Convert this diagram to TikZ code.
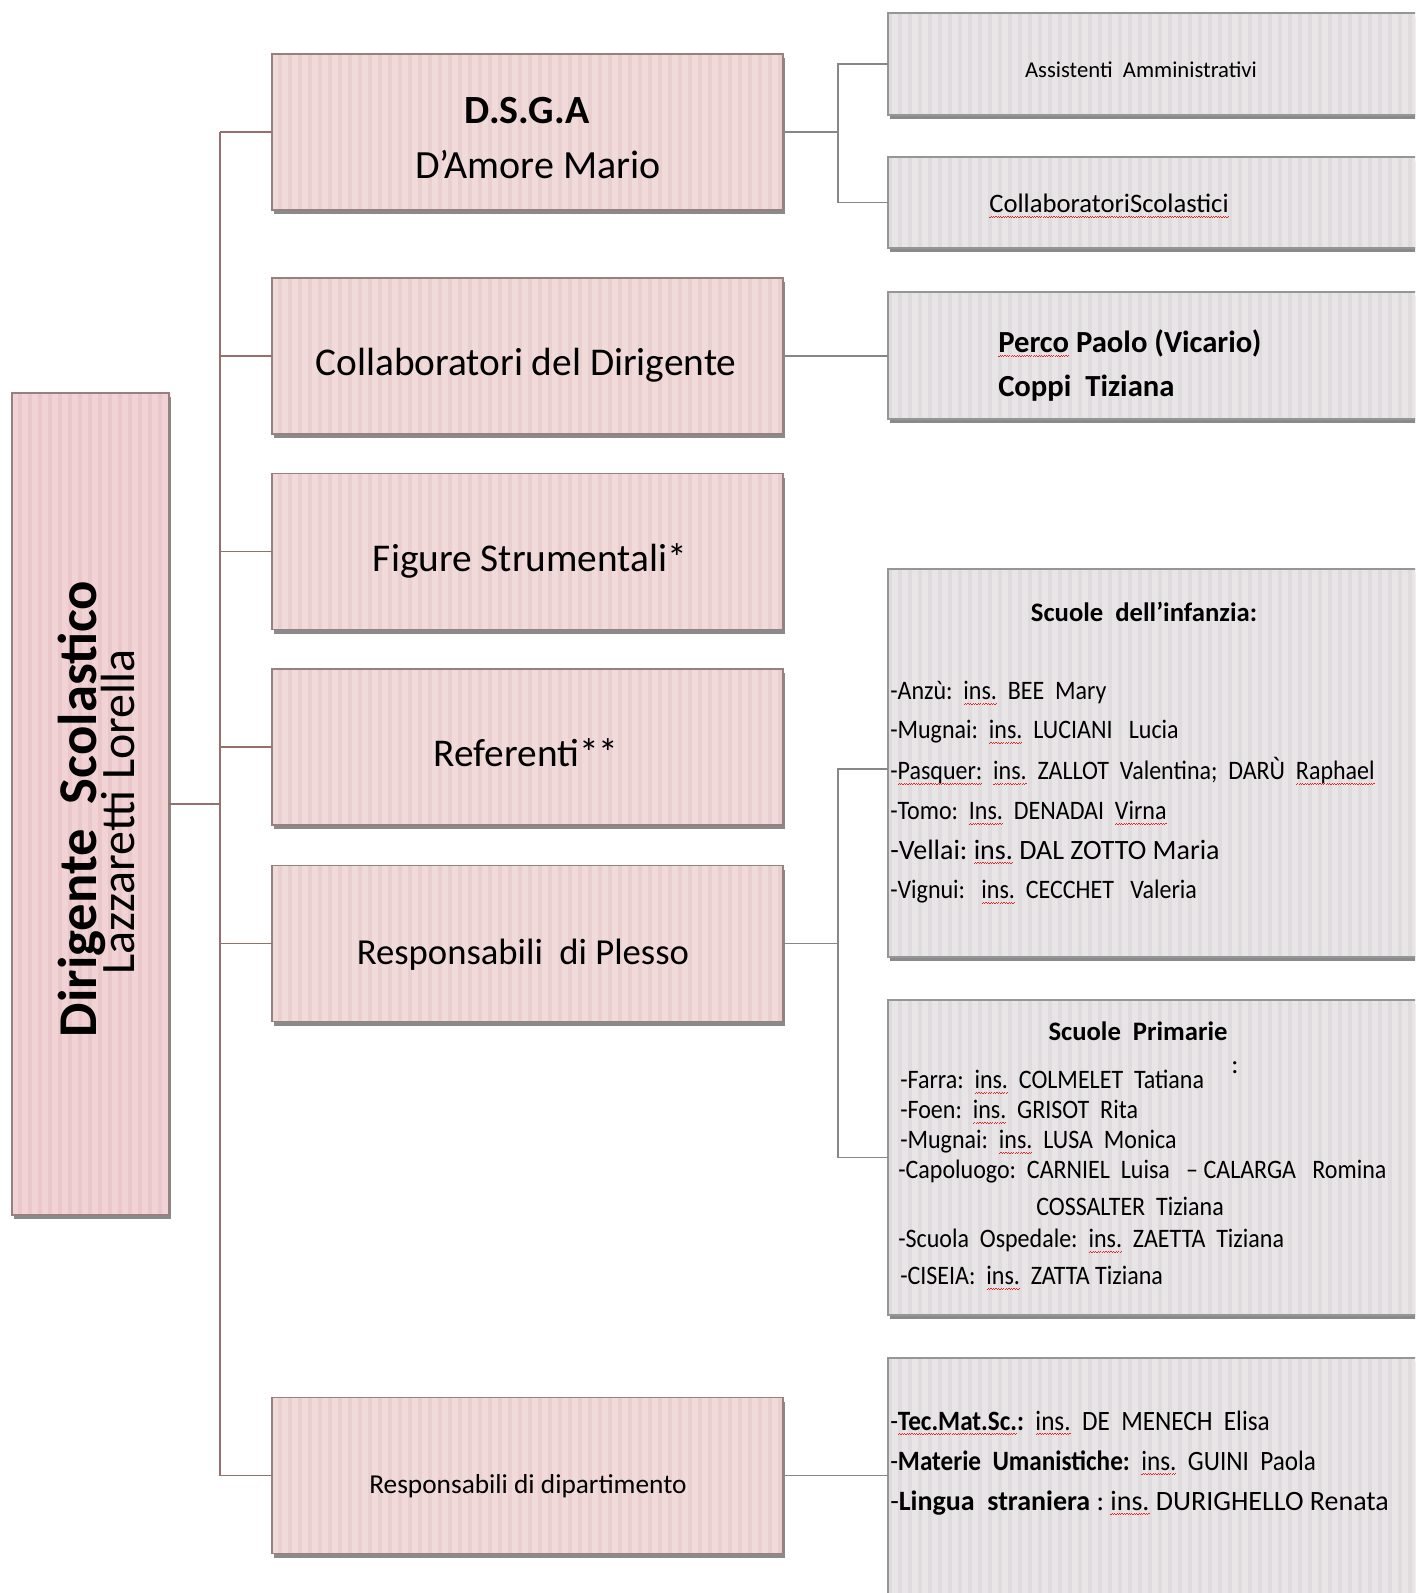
\documentclass[tikz,border=0pt]{standalone}
\usepackage{fontspec}
\setmainfont{Carlito}
\newfontfamily\cnd{Carlito}[FakeStretch=0.9]
\usetikzlibrary{shadows,patterns.meta}
\definecolor{pinkbg}{RGB}{240,218,218}
\definecolor{pinkst}{RGB}{233,207,208}
\definecolor{dirbg}{RGB}{241,210,213}
\definecolor{dirst}{RGB}{234,199,203}
\definecolor{greybg}{RGB}{232,229,231}
\definecolor{greyst}{RGB}{223,219,222}
\definecolor{pinkbd}{RGB}{150,128,128}
\definecolor{greybd}{RGB}{150,150,150}
\definecolor{lline}{RGB}{150,112,108}
\definecolor{rline}{RGB}{135,135,135}
\definecolor{wavered}{RGB}{225,40,40}
\newsavebox\rwbox
\newcommand\rw[1]{\sbox\rwbox{#1}\leavevmode\rlap{\hbox to\wd\rwbox{\color{wavered}\xleaders\hbox{\rule[-3.8pt]{0.9pt}{0.7pt}\rule[-3.1pt]{0.9pt}{0.7pt}}\hfil}}\usebox\rwbox}
\tikzset{
  box/.style={line width=1.1pt, inner sep=0pt, outer sep=0pt,
    drop shadow={shadow xshift=1.5pt, shadow yshift=-3pt, fill=black!65, opacity=0.7}},
  pinkbox/.style={box, preaction={fill=pinkbg}, draw=pinkbd,
    pattern={Lines[angle=90,distance=7.5pt,line width=2.6pt]}, pattern color=pinkst},
  dirbox/.style={box, preaction={fill=dirbg}, draw=pinkbd,
    pattern={Lines[angle=90,distance=7.5pt,line width=2.6pt]}, pattern color=dirst},
  greybox/.style={box, preaction={fill=greybg}, draw=greybd,
    pattern={Lines[angle=90,distance=7.5pt,line width=2.6pt]}, pattern color=greyst},
  midbox/.style={pinkbox, minimum width=383.25pt, minimum height=117pt},
  rbox/.style={greybox, minimum width=417.75pt},
  txt/.style={inner sep=0pt, text depth=0pt},
  lconn/.style={draw=lline, line width=1.1pt},
  rconn/.style={draw=rline, line width=1.1pt},
  s41b/.style={font=\fontsize{41}{49}\selectfont\bfseries, text height=26.7pt},
  s36/.style={font=\fontsize{36}{43}\selectfont, text height=23.4pt},
  s30b/.style={font=\fontsize{30}{36}\selectfont\bfseries, text height=19.5pt},
  s30/.style={font=\fontsize{30}{36}\selectfont, text height=19.5pt},
  s29/.style={font=\fontsize{29.5}{35}\selectfont, text height=19.2pt},
  s27/.style={font=\fontsize{27.5}{33}\selectfont, text height=17.9pt},
  s20r/.style={font=\fontsize{20.5}{25}\selectfont, text height=13.3pt},
  s17/.style={font=\fontsize{17}{20}\selectfont, text height=11pt},
  s20/.style={font=\fontsize{20}{24}\selectfont, text height=13pt},
  s21/.style={font=\fontsize{21}{25}\selectfont, text height=13.65pt},
  s20b/.style={font=\fontsize{20}{24}\selectfont\bfseries, text height=13pt},
  s23b/.style={font=\fontsize{23}{28}\selectfont\bfseries, text height=15pt},
  c20/.style={font=\fontsize{20}{24}\selectfont\cnd, text height=13pt},
  c21/.style={font=\fontsize{21}{25}\selectfont\cnd, text height=13.65pt},
}
\begin{document}
\begin{tikzpicture}[x=0.75pt,y=-0.75pt]
\path[use as bounding box, clip] (0,0) rectangle (1415,1593);
\fill[white] (0,0) rectangle (1415,1593);

% boxes
\node[dirbox, minimum width=117.75pt, minimum height=616.5pt] (dir) at (90.5,804) {};
\node[midbox] (dsga) at (527.5,132) {};
\node[midbox] (collab) at (527.5,356) {};
\node[midbox] (figure) at (527.5,551.5) {};
\node[midbox] (ref) at (527.5,747) {};
\node[midbox] (plesso) at (527.5,943.5) {};
\node[midbox] (dip) at (527.5,1475.5) {};

\node[rbox, minimum height=76.5pt] (assist) at (1166.5,64) {};
\node[rbox, minimum height=68.25pt] (colsc) at (1166.5,202.5) {};
\node[rbox, minimum height=95.25pt] (perco) at (1166.5,355.5) {};
\node[rbox, minimum height=291pt] (infanzia) at (1166.5,763) {};
\node[rbox, minimum height=236.25pt] (primarie) at (1166.5,1157.5) {};
\node[rbox, minimum height=211.5pt] (dipR) at (1166.5,1499) {};

% connectors
\coordinate (tr) at (220,0);
\coordinate (br) at (838,0);
\draw[lconn] (dir.east) -- (dir.east -| tr);
\draw[lconn] (tr |- dsga.west) -- (tr |- dip.west);
\foreach \n in {dsga,collab,figure,ref,plesso,dip}
  \draw[lconn] (tr |- \n.west) -- (\n.west);
\draw[rconn] (dsga.east) -- (dsga.east -| br) |- (assist.west);
\draw[rconn] (dsga.east -| br) |- (colsc.west);
\draw[rconn] (collab.east) -- (collab.east -| perco.west);
\draw[rconn] (plesso.east) -- (plesso.east -| br) |- ([yshift=-4.5pt]infanzia.west);
\draw[rconn] (plesso.east -| br) |- (primarie.west);
\draw[rconn] (dip.east) -- (dip.east -| dipR.west);

% left texts
\node[txt, rotate=90, s41b] (dirt1) at (79,809) {Dirigente~~Scolastico};
\node[txt, rotate=90, s36] (dirt2) at (119,812) {Lazzaretti Lorella};

% middle texts
\node[txt, s30b] (dsgat1) at (527,110) {D.S.G.A};
\node[txt, s30] (dsgat2) at (538,165) {D’Amore Mario};
\node[txt, s29] (collabt) at (526,363) {Collaboratori del Dirigente};
\node[txt, s29] (figuret) at (530,559) {Figure Strumentali*};
\node[txt, s29] (reft) at (526,754) {Referenti**};
\node[txt, s27] (plessot) at (523,953) {Responsabili~~di Plesso};
\node[txt, s20r] (dipt) at (528,1485) {Responsabili di dipartimento};

% right texts
\node[txt, s17] (assistt) at (1141,70) {Assistenti~~Amministrativi};
\node[txt, s20] (colsct) at (1109,204) {\rw{CollaboratoriScolastici}};
\node[txt, anchor=west, s23b] (percot1) at (998,342) {\rw{Perco} Paolo (Vicario)};
\node[txt, anchor=west, s23b] (percot2) at (998,386) {Coppi~~Tiziana};

\node[txt, s20b] (inft) at (1144,613) {Scuole~~dell'infanzia:};
\node[txt, c20, anchor=west] (inf1) at (890,691) {-Anzù:~~\rw{ins.}~~BEE~~Mary};
\node[txt, c20, anchor=west] (inf2) at (890,730) {-Mugnai:~~\rw{ins.}~~LUCIANI~~~Lucia};
\node[txt, c20, anchor=west] (inf3) at (890,771) {-\rw{Pasquer:}~~\rw{ins.}~~ZALLOT~~Valentina;~~DARÙ~~\rw{Raphael}};
\node[txt, c20, anchor=west] (inf4) at (890,811) {-Tomo:~~\rw{Ins.}~~DENADAI~~\rw{Virna}};
\node[txt, s21, anchor=west] (inf5) at (890,850) {-Vellai:~\rw{ins.}~DAL~ZOTTO~Maria};
\node[txt, c20, anchor=west] (inf6) at (890,890) {-Vignui:~~~\rw{ins.}~~CECCHET~~~Valeria};

\node[txt, s20b] (primt) at (1138,1032) {Scuole~~Primarie};
\node[txt, s20] (primcolon) at (1235,1065) {:};
\node[txt, c20, anchor=west] (prim1) at (900,1080) {-Farra:~~\rw{ins.}~~COLMELET~~Tatiana};
\node[txt, c20, anchor=west] (prim2) at (900,1110) {-Foen:~~\rw{ins.}~~GRISOT~~Rita};
\node[txt, c20, anchor=west] (prim3) at (900,1140) {-Mugnai:~~\rw{ins.}~~LUSA~~Monica};
\node[txt, c20, anchor=west] (prim4) at (898,1170) {-Capoluogo:~~CARNIEL~~Luisa~~~–~CALARGA~~~Romina};
\node[txt, c20, anchor=west] (prim5) at (1036,1207) {COSSALTER~~Tiziana};
\node[txt, c20, anchor=west] (prim6) at (898,1239) {-Scuola~~Ospedale:~~\rw{ins.}~~ZAETTA~~Tiziana};
\node[txt, c20, anchor=west] (prim7) at (900,1276) {-CISEIA:~~\rw{ins.}~~ZATTA~Tiziana};

\node[txt, c21, anchor=west] (dip1) at (890,1421) {-\textbf{\rw{Tec.Mat.Sc.}:}~~\rw{ins.}~~DE~~MENECH~~Elisa};
\node[txt, c21, anchor=west] (dip2) at (890,1461) {-\textbf{Materie~~Umanistiche:}~~\rw{ins.}~~GUINI~~Paola};
\node[txt, s21, anchor=west] (dip3) at (890,1501) {-\textbf{Lingua~~straniera}~:~\rw{ins.}~DURIGHELLO~Renata};
\end{tikzpicture}
\end{document}
